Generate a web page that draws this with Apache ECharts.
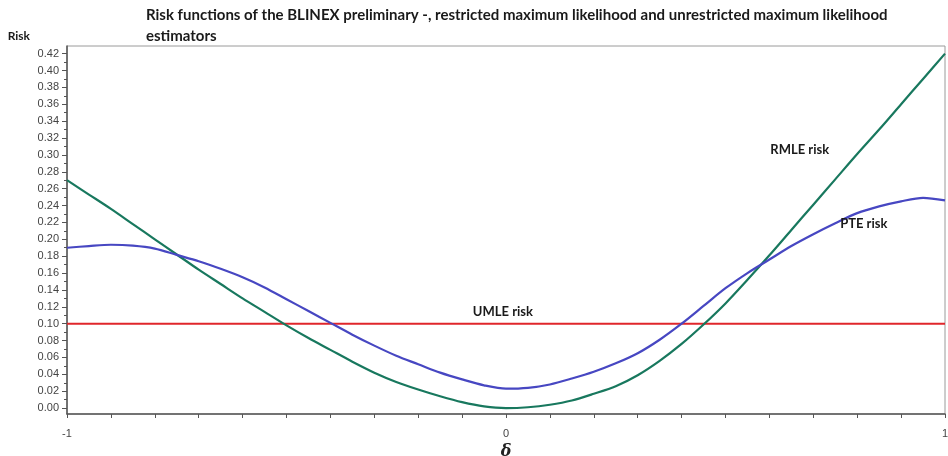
<!DOCTYPE html>
<html>
<head>
<meta charset="utf-8">
<title>BLINEX risk functions</title>
<script src="https://cdn.jsdelivr.net/npm/echarts@6/dist/echarts.min.js"></script>
<style>
  html, body { margin: 0; padding: 0; background: #fff; }
  #chart { width: 948px; height: 456px; }
</style>
</head>
<body>
<div id="chart"></div>
<script>
// Shift parameter delta on the horizontal axis
const deltaValues = [
  -1.00, -0.95, -0.90, -0.85, -0.80, -0.75, -0.70, -0.65, -0.60, -0.55,
  -0.50, -0.45, -0.40, -0.35, -0.30, -0.25, -0.20, -0.15, -0.10, -0.05,
   0.00,  0.05,  0.10,  0.15,  0.20,  0.25,  0.30,  0.35,  0.40,  0.45,
   0.50,  0.55,  0.60,  0.65,  0.70,  0.75,  0.80,  0.85,  0.90,  0.95, 1.00
];

// Restricted maximum likelihood estimator risk
const rmleRisk = [
  0.270, 0.253, 0.236, 0.218, 0.200, 0.182, 0.164, 0.147, 0.130, 0.114,
  0.098, 0.083, 0.069, 0.055, 0.042, 0.031, 0.022, 0.014, 0.007, 0.002,
  0.000, 0.001, 0.004, 0.009, 0.017, 0.026, 0.039, 0.056, 0.076, 0.099,
  0.124, 0.152, 0.181, 0.211, 0.241, 0.271, 0.301, 0.330, 0.360, 0.390, 0.420
];

// Preliminary test estimator risk
const pteRisk = [
  0.190, 0.192, 0.1935, 0.1925, 0.189, 0.1815, 0.174, 0.165, 0.155, 0.143,
  0.129, 0.115, 0.101, 0.087, 0.074, 0.062, 0.052, 0.042, 0.034, 0.027,
  0.023, 0.024, 0.028, 0.035, 0.043, 0.053, 0.065, 0.081, 0.100, 0.121,
  0.142, 0.160, 0.176, 0.192, 0.206, 0.219, 0.231, 0.239, 0.245, 0.249, 0.246
];

// Unrestricted maximum likelihood estimator risk (constant)
const umleDelta = [-1, 1];
const umleRisk = [0.10, 0.10];

// Axis tick labels
const yTickLabels = [0.00, 0.02, 0.04, 0.06, 0.08, 0.10, 0.12, 0.14, 0.16, 0.18, 0.20,
                     0.22, 0.24, 0.26, 0.28, 0.30, 0.32, 0.34, 0.36, 0.38, 0.40, 0.42];
const yMinorTicks = [0.01, 0.03, 0.05, 0.07, 0.09, 0.11, 0.13, 0.15, 0.17, 0.19, 0.21,
                     0.23, 0.25, 0.27, 0.29, 0.31, 0.33, 0.35, 0.37, 0.39, 0.41];
const xTickLabels = [-1, 0, 1];

// Curve annotations: [delta, risk, text]
const curveNotes = [
  [-0.007, 0.114, 'UMLE risk'],
  [0.669, 0.306, 'RMLE risk'],
  [0.815, 0.218, 'PTE risk']
];

const pair = (xs, ys) => xs.map((x, i) => [x, ys[i]]);

const yMin = -0.007, yMax = 0.429;
const labelFont = 'Liberation Sans, Arial, sans-serif';
const boldFont = 'Lato, Open Sans, sans-serif';

const chart = echarts.init(document.getElementById('chart'), null, { renderer: 'canvas' });

chart.setOption({
  animation: false,
  backgroundColor: '#ffffff',
  title: {
    text: 'Risk functions of the BLINEX preliminary -, restricted maximum likelihood and unrestricted maximum likelihood\nestimators',
    left: 141,
    top: 0,
    textStyle: {
      fontFamily: boldFont,
      fontWeight: 'bold',
      fontSize: 15,
      lineHeight: 21,
      color: '#1a1a1a'
    }
  },
  grid: {
    left: 67, right: 3, top: 46, bottom: 42,
    containLabel: false,
    outerBoundsMode: 'none',
    show: true,
    borderColor: '#9a9a9a',
    borderWidth: 1,
    backgroundColor: '#ffffff'
  },
  xAxis: {
    type: 'value',
    min: -1, max: 1, interval: 0.1,
    name: 'δ',
    nameLocation: 'middle',
    nameGap: 21,
    nameTextStyle: {
      fontFamily: 'DejaVu Serif, Liberation Serif, serif',
      fontStyle: 'italic',
      fontWeight: 'bold',
      fontSize: 16,
      color: '#222'
    },
    splitLine: { show: false },
    axisLine: { show: true, onZero: false, lineStyle: { color: '#555', width: 1.5 } },
    axisTick: { show: true, length: 4, lineStyle: { color: '#555' } },
    axisLabel: {
      margin: 14,
      fontFamily: labelFont,
      fontSize: 11,
      color: '#444',
      formatter: v => {
        const hit = xTickLabels.find(t => Math.abs(t - v) < 1e-9);
        return hit === undefined ? '' : String(hit);
      }
    }
  },
  yAxis: [
    {
      type: 'value',
      min: yMin, max: yMax,
      name: 'Risk',
      nameLocation: 'end',
      nameGap: 4,
      nameTextStyle: {
        fontFamily: boldFont,
        fontWeight: 'bold',
        fontSize: 12,
        color: '#1a1a1a',
        align: 'right',
        padding: [0, 37, 0, 0]
      },
      splitLine: { show: false },
      axisLine: { show: true, onZero: false, lineStyle: { color: '#555', width: 1.5 } },
      axisTick: { show: true, length: 5, customValues: yTickLabels, lineStyle: { color: '#555' } },
      axisLabel: {
        margin: 8,
        fontFamily: labelFont,
        fontSize: 11,
        color: '#444',
        customValues: yTickLabels,
        formatter: v => v.toFixed(2)
      }
    },
    {
      type: 'value',
      min: yMin, max: yMax,
      position: 'left',
      splitLine: { show: false },
      axisLine: { show: false, onZero: false },
      axisTick: { show: true, length: 3, customValues: yMinorTicks, lineStyle: { color: '#555' } },
      axisLabel: { show: false }
    }
  ],
  series: [
    {
      name: 'UMLE risk',
      type: 'line',
      data: pair(umleDelta, umleRisk),
      showSymbol: false,
      lineStyle: { color: '#e0262b', width: 2 },
      markPoint: {
        symbol: 'circle',
        symbolSize: 0,
        label: {
          show: true,
          position: 'inside',
          fontFamily: boldFont,
          fontWeight: 'bold',
          fontSize: 13,
          color: '#1a1a1a',
          formatter: p => p.name
        },
        data: curveNotes.map(n => ({ name: n[2], coord: [n[0], n[1]] }))
      },
      z: 2
    },
    {
      name: 'RMLE risk',
      type: 'line',
      data: pair(deltaValues, rmleRisk),
      showSymbol: false,
      smooth: 0.3,
      lineStyle: { color: '#18785e', width: 2.2 },
      z: 3
    },
    {
      name: 'PTE risk',
      type: 'line',
      data: pair(deltaValues, pteRisk),
      showSymbol: false,
      smooth: 0.3,
      lineStyle: { color: '#4747c2', width: 2.2 },
      z: 4
    }
  ]
});
</script>
</body>
</html>
